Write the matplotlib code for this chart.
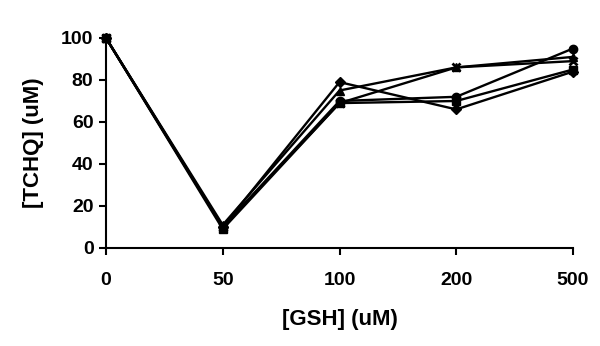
import matplotlib
matplotlib.use("Agg")
import matplotlib.pyplot as plt

categories = ["0", "50", "100", "200", "500"]
s_diamond = [100, 10, 79, 66, 84]
s_square = [100, 9, 69, 70, 85]
s_triangle = [100, 11, 75, 86, 91]
s_cross = [100, 10, 69, 86, 89]
s_circle = [100, 10, 70, 72, 95]
yticks = [0, 20, 40, 60, 80, 100]

plt.rcParams['font.family'] = ['Liberation Sans', 'DejaVu Sans']
fig = plt.figure(figsize=(6, 3.46), dpi=100)
ax = fig.add_axes([106/600, 1-248/346, (573-106)/600, (248-38)/346])

x = list(range(len(categories)))
kw = dict(color='black', lw=1.7, ms=6)
ax.plot(x, s_diamond, marker='D', ms=5.5, color='black', lw=1.7)
ax.plot(x, s_square, marker='s', **kw)
ax.plot(x, s_triangle, marker='^', **kw)
ax.plot(x, s_cross, marker='x', mew=2, **kw)
ax.plot(x, s_circle, marker='o', **kw)

ax.set_xlim(0, len(categories)-1)
ax.set_ylim(0, 100)
ax.set_xticks(x)
ax.set_xticklabels(categories)
ax.set_yticks(yticks)
ax.spines['top'].set_visible(False)
ax.spines['right'].set_visible(False)
for s in ['left', 'bottom']:
    ax.spines[s].set_linewidth(1.5)
    ax.spines[s].set_clip_on(False)
ax.tick_params(direction='out', length=5, width=1.5, labelsize=14)
for lab in ax.get_xticklabels() + ax.get_yticklabels():
    lab.set_fontweight('bold')
ax.tick_params(axis='x', pad=12)
ax.tick_params(axis='y', pad=4)
ax.set_xlabel('[GSH] (uM)', fontsize=16, fontweight='bold', labelpad=15)
ax.set_ylabel('[TCHQ] (uM)', fontsize=16, fontweight='bold', labelpad=12)
for line in ax.get_lines():
    line.set_clip_on(False)

fig.savefig('out.png', dpi=100, facecolor='white')
